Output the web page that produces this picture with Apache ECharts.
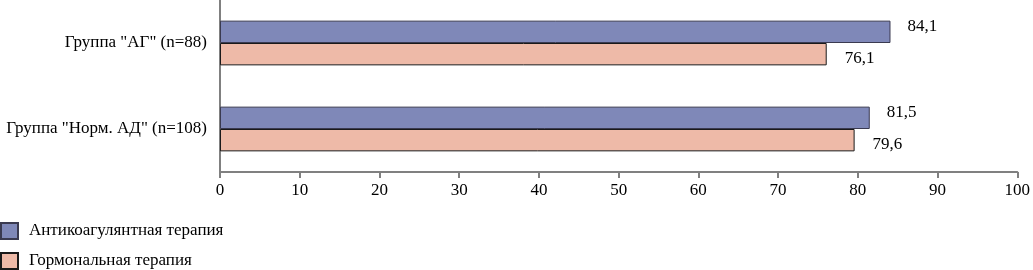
<!DOCTYPE html>
<html>
<head>
<meta charset="utf-8">
<script src="https://cdn.jsdelivr.net/npm/echarts@6/dist/echarts.min.js"></script>
<style>html,body{margin:0;padding:0;background:#fff}#c{width:1033px;height:270px}</style>
</head>
<body>
<div id="c"></div>
<script>
var categories = ['Группа "АГ" (n=88)', 'Группа "Норм. АД" (n=108)'];
var seriesNames = ['Антикоагулянтная терапия', 'Гормональная терапия'];
var anticoag = [84.1, 81.5];
var hormonal = [76.1, 79.6];
var xTicks = [0, 10, 20, 30, 40, 50, 60, 70, 80, 90, 100];

var font = 'Liberation Serif';
var chart = echarts.init(document.getElementById('c'), null, {renderer: 'canvas'});
function fmt(p) { return String(p.value).replace('.', ','); }
function legendFor(name, top) {
  return {
    orient: 'vertical', left: 0, top: top, padding: 0,
    itemWidth: 17, itemHeight: 16,
    icon: 'rect',
    textStyle: {fontFamily: font, fontSize: 17, color: '#000', padding: [0, 0, 0, 6]},
    data: [name]
  };
}
chart.setOption({
  animation: false,
  textStyle: {fontFamily: font},
  grid: {left: 220, right: 13, top: 0, bottom: 98},
  legend: [legendFor(seriesNames[0], 222), legendFor(seriesNames[1], 252)],
  xAxis: {
    type: 'value', min: xTicks[0], max: xTicks[xTicks.length - 1], interval: 10,
    axisLine: {show: true, lineStyle: {color: '#808080', width: 2}},
    axisTick: {show: true, length: 6, lineStyle: {color: '#808080', width: 2}},
    splitLine: {show: false},
    axisLabel: {fontFamily: font, fontSize: 17, color: '#000', margin: 10}
  },
  yAxis: {
    type: 'category', inverse: true, data: categories,
    axisLine: {show: true, lineStyle: {color: '#808080', width: 2}},
    axisTick: {show: false},
    axisLabel: {fontFamily: font, fontSize: 17, color: '#000', margin: 13}
  },
  series: [
    {
      name: seriesNames[0], type: 'bar', data: anticoag,
      barGap: '0%', barCategoryGap: '48%',
      itemStyle: {color: '#7f88b8', borderColor: '#3a3a50', borderWidth: 1},
      label: {show: true, position: 'right', distance: 17, offset: [0, -5], formatter: fmt,
        fontFamily: font, fontSize: 17, color: '#000'}
    },
    {
      name: seriesNames[1], type: 'bar', data: hormonal,
      barGap: '0%', barCategoryGap: '48%',
      itemStyle: {color: '#eebaa8', borderColor: '#1a1a1a', borderWidth: 1},
      label: {show: true, position: 'right', distance: 18, offset: [0, 4], formatter: fmt,
        fontFamily: font, fontSize: 17, color: '#000'}
    }
  ]
});
</script>
</body>
</html>
